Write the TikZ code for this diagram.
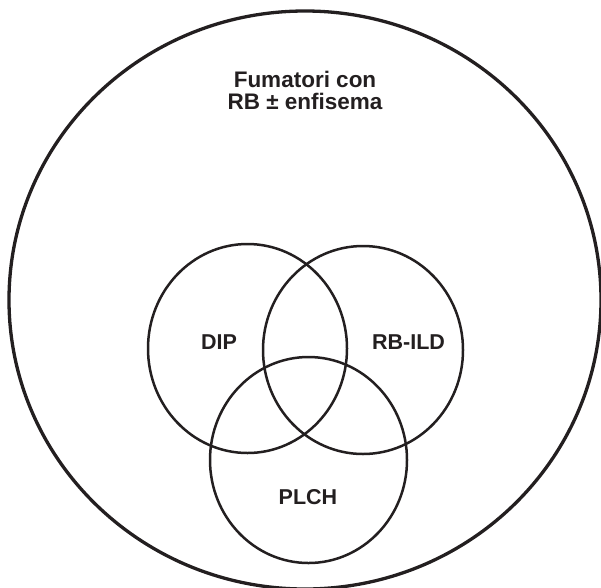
\documentclass[tikz,border=0pt]{standalone}
\usepackage{fontspec}
\setmainfont{Liberation Sans}
\usetikzlibrary{shapes.geometric}
\definecolor{ink}{HTML}{231F20}
\tikzset{
  set/.style={draw=ink, line width=2.5pt, ellipse, inner sep=0pt},
  lab/.style={text=ink, font=\fontsize{21.5}{22}\selectfont\bfseries, inner sep=0pt, align=center}
}
\begin{document}
\begin{tikzpicture}[x=1pt,y=-1pt]
\useasboundingbox (0,0) rectangle (601,587);
\clip (0,0) rectangle (601,587);
\node[set, line width=3.3pt, minimum width=592pt, minimum height=578pt] (all) at (305,300) {};
\node[set, minimum width=199pt, minimum height=209pt] (dipc) at (247.5,348.5) {};
\node[set, minimum width=200pt, minimum height=208pt] (rbc) at (363,350) {};
\node[set, minimum width=197pt, minimum height=206pt] (plc) at (308.5,460) {};
\node[lab, font=\fontsize{22.5}{22}\selectfont\bfseries] (fum) at (305,90) {Fumatori con\\RB ± enfisema};
\node[lab] (dip) at (219,342) {DIP};
\node[lab] (rb) at (408.5,342) {RB-ILD};
\node[lab] (plch) at (308,497.5) {PLCH};
\end{tikzpicture}
\end{document}
